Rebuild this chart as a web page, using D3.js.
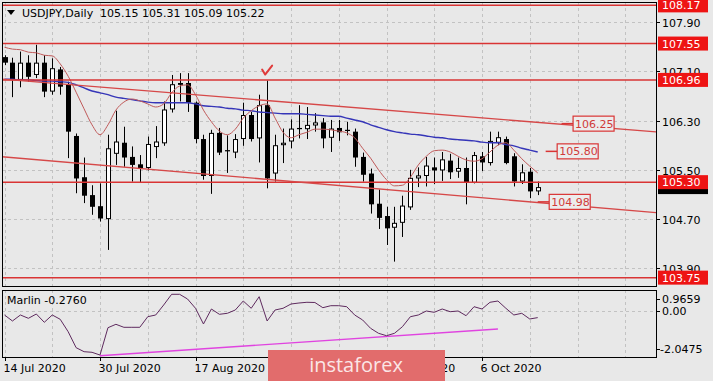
<!DOCTYPE html>
<html><head><meta charset="utf-8">
<script src="https://cdn.jsdelivr.net/npm/d3@7"></script>
<style>
html,body{margin:0;padding:0;background:#e8e8e8;}
svg{display:block;}
text{font-family:"DejaVu Sans",Verdana,sans-serif;font-size:11px;}
</style>
</head><body>
<svg id="c" width="713" height="381"></svg>
<script>
const dates = [
"2020-07-14","2020-07-15","2020-07-16","2020-07-17","2020-07-20","2020-07-21","2020-07-22","2020-07-23","2020-07-24","2020-07-27","2020-07-28","2020-07-29","2020-07-30","2020-07-31",
"2020-08-03","2020-08-04","2020-08-05","2020-08-06","2020-08-07","2020-08-10","2020-08-11","2020-08-12","2020-08-13","2020-08-14","2020-08-17","2020-08-18","2020-08-19","2020-08-20","2020-08-21","2020-08-24","2020-08-25","2020-08-26","2020-08-27","2020-08-28","2020-08-31",
"2020-09-01","2020-09-02","2020-09-03","2020-09-04","2020-09-07","2020-09-08","2020-09-09","2020-09-10","2020-09-11","2020-09-14","2020-09-15","2020-09-16","2020-09-17","2020-09-18","2020-09-21","2020-09-22","2020-09-23","2020-09-24","2020-09-25","2020-09-28","2020-09-29","2020-09-30",
"2020-10-01","2020-10-02","2020-10-05","2020-10-06","2020-10-07","2020-10-08","2020-10-09","2020-10-12","2020-10-13","2020-10-14","2020-10-15"];

const open = [107.33,107.24,106.96,107.24,107.04,107.24,106.77,107.13,106.88,106.05,
105.38,105.09,104.91,104.70,105.76,105.94,105.71,105.59,105.53,105.87,
105.93,106.48,106.91,106.91,106.59,106.00,105.40,106.10,105.82,105.78,
106.00,106.39,106.01,106.55,105.44,105.90,105.96,106.18,106.16,106.22,
106.27,106.02,106.18,106.15,106.12,105.71,105.44,104.95,104.75,104.56,
104.64,104.89,105.36,105.40,105.54,105.49,105.65,105.47,105.53,105.29,
105.72,105.61,105.94,106.00,105.72,105.31,105.47,105.15];
const high = [107.36,107.32,107.42,107.36,107.53,107.36,107.31,107.17,106.93,106.09,
105.70,105.25,105.28,106.07,106.46,106.20,105.88,105.74,106.04,106.21,
106.61,107.04,107.07,107.07,106.61,106.07,106.15,106.18,106.06,106.08,
106.59,106.44,106.72,106.95,106.07,106.17,106.32,106.55,106.52,106.42,
106.34,106.31,106.31,106.28,106.17,105.78,105.52,105.18,104.90,104.90,
105.08,105.50,105.54,105.71,105.70,105.79,105.76,105.70,105.70,105.79,
105.79,106.12,106.12,106.04,105.77,105.59,105.53,105.31];
const low = [107.20,106.68,106.84,106.93,106.99,106.68,106.72,106.72,105.69,105.12,
104.96,104.77,104.66,104.20,105.58,105.55,105.31,105.29,105.49,105.69,
105.89,106.43,106.61,106.44,105.93,105.34,105.11,105.74,105.45,105.69,
105.89,105.96,105.62,105.20,105.31,105.61,105.85,106.01,106.00,106.12,
105.85,105.79,105.97,106.06,105.55,105.31,104.79,104.54,104.28,104.01,
104.41,104.85,105.22,105.23,105.27,105.32,105.35,105.37,104.94,105.28,
105.48,105.57,105.90,105.59,105.23,105.27,105.04,105.09];
const close = [107.24,106.96,107.24,107.01,107.24,106.77,107.15,106.85,106.12,105.36,
105.08,104.90,104.71,105.85,105.96,105.70,105.58,105.53,105.92,105.96,
106.48,106.89,106.88,106.59,106.00,105.40,106.10,105.78,105.80,106.00,
106.39,106.00,106.55,105.36,105.90,105.94,106.17,106.16,106.23,106.27,
106.01,106.17,106.11,106.13,105.70,105.42,104.94,104.72,104.55,104.64,
104.92,105.37,105.41,105.57,105.49,105.67,105.46,105.53,105.29,105.74,
105.62,105.97,106.03,105.61,105.31,105.46,105.15,105.22];

const maFast = [107.49,107.46,107.45,107.41,107.40,107.36,107.35,107.22,107.02,106.76,
106.49,106.23,106.07,106.23,106.47,106.60,106.65,106.62,106.57,106.52,
106.57,106.75,106.86,106.88,106.72,106.47,106.28,106.13,106.07,106.16,
106.34,106.46,106.54,106.57,106.34,106.11,106.02,106.07,106.11,106.16,
106.16,106.15,106.13,106.10,106.02,105.85,105.69,105.50,105.34,105.24,
105.25,105.38,105.58,105.72,105.81,105.82,105.79,105.72,105.66,105.64,
105.68,105.79,105.90,105.94,105.82,105.68,105.56,105.45];
const maSlow = [106.97,106.97,106.96,106.96,106.95,106.94,106.94,106.93,106.92,106.88,
106.83,106.78,106.75,106.72,106.68,106.66,106.64,106.62,106.60,106.59,
106.59,106.59,106.59,106.59,106.57,106.54,106.53,106.52,106.50,106.49,
106.47,106.46,106.44,106.43,106.42,106.41,106.41,106.41,106.40,106.39,
106.38,106.37,106.37,106.34,106.31,106.28,106.23,106.19,106.15,106.12,
106.10,106.08,106.07,106.05,106.03,106.02,106.00,105.99,105.98,105.97,
105.95,105.94,105.94,105.91,105.89,105.85,105.82,105.79];

const marlin = [-0.158,-0.428,-0.158,-0.307,-0.114,-0.487,-0.158,-0.352,-0.910,-1.629,
-1.809,-1.836,-1.960,-0.730,-0.577,-0.712,-0.712,-0.712,-0.235,-0.158,
0.291,0.773,0.773,0.561,0.143,-0.563,0.111,-0.127,-0.082,0.066,
0.471,0.143,0.665,-0.428,0.066,0.143,0.336,0.381,0.413,0.404,
0.170,0.260,0.260,0.215,-0.158,-0.383,-0.757,-0.982,-1.089,-0.982,
-0.685,-0.235,-0.158,0.021,-0.037,0.111,-0.010,0.021,-0.190,0.215,
0.111,0.413,0.471,0.143,-0.158,-0.082,-0.338,-0.276];

const tickDates = ["2020-07-14","2020-07-30","2020-08-17","2020-09-02","2020-09-18","2020-10-06"];
const tickLabels = ["14 Jul 2020","30 Jul 2020","17 Aug 2020","2 Sep 2020","18 Sep 2020","6 Oct 2020"];
const priceTicks = [107.90,107.10,106.30,105.50,104.70,103.90];
const levels = [108.17,107.55,106.96,105.30,103.75];
const lastPrice = 105.22;
const upperTrendBars = [0,70], upperTrendPrices = [106.97,106.24];
const lowerTrendBars = [0,67], lowerTrendPrices = [105.71,104.97];
const tagValues = [106.25,105.80,104.98], tagBars = [70,68,67];
const marlinTrendBars = [12,62], marlinTrendValues = [-1.99,-0.79];
const marlinTicks = [0.9659,0.00,-2.0475];
const marlinLast = -0.2760;
const titleText = "USDJPY,Daily", titleValues = "105.15 105.31 105.09 105.22";
const markBar = 33;

// layout
const plotL = 2, plotR = 656, mainT = 2, mainB = 286, subT = 290, subB = 357;
const svg = d3.select("#c");
const x = d3.scaleLinear().domain([0,60]).range([4.5,482]);
const y = d3.scaleLinear().domain([103.90,107.90]).range([268.4,22]);
const ys = d3.scaleLinear().domain([-2.0475,0.9659]).range([subB,subT]);
const N = close.length;
const idx = d3.range(N);

const RED = "#d93434", GRID = "#c2c2c2";

svg.append("rect").attr("width",713).attr("height",381).attr("fill","#e8e8e8");

const defs = svg.append("defs");
defs.append("clipPath").attr("id","cm").append("rect").attr("x",plotL).attr("y",mainT).attr("width",plotR-plotL).attr("height",mainB-mainT);
defs.append("clipPath").attr("id","cs").append("rect").attr("x",plotL).attr("y",subT).attr("width",plotR-plotL).attr("height",subB-subT);

const main = svg.append("g").attr("clip-path","url(#cm)");
const sub = svg.append("g").attr("clip-path","url(#cs)");

// grid
const iMin = x.invert(plotL), iMax = x.invert(plotR);
const gridBars = d3.range(0, Math.ceil(iMax)+1, 6);
[main, sub].forEach((g,k)=>{
  g.selectAll(null).data(gridBars).join("line")
   .attr("x1",d=>Math.round(x(d))+0.5).attr("x2",d=>Math.round(x(d))+0.5)
   .attr("y1",k?subT:mainT).attr("y2",k?subB:mainB)
   .attr("stroke",GRID).attr("stroke-dasharray","3,3");
});
main.selectAll(null).data(priceTicks).join("line")
  .attr("x1",plotL).attr("x2",plotR)
  .attr("y1",d=>Math.round(y(d))+0.5).attr("y2",d=>Math.round(y(d))+0.5)
  .attr("stroke",GRID).attr("stroke-dasharray","3,3");
sub.append("line").attr("x1",plotL).attr("x2",plotR)
  .attr("y1",Math.round(ys(0))+0.5).attr("y2",Math.round(ys(0))+0.5)
  .attr("stroke",GRID).attr("stroke-dasharray","3,3");

// candles
main.selectAll(null).data(idx).join("line")
  .attr("x1",i=>Math.round(x(i))+0.5).attr("x2",i=>Math.round(x(i))+0.5)
  .attr("y1",i=>y(high[i])).attr("y2",i=>y(low[i]))
  .attr("stroke","#000").attr("stroke-width",1);
main.selectAll(null).data(idx).join("rect")
  .attr("x",i=>Math.round(x(i))-2)
  .attr("y",i=>y(Math.max(open[i],close[i])))
  .attr("width",5)
  .attr("height",i=>Math.max(1,Math.abs(y(open[i])-y(close[i]))))
  .attr("fill",i=>close[i]>=open[i]?"#ffffff":"#000000")
  .attr("stroke","#000").attr("stroke-width",i=>close[i]>=open[i]?1:0)
  .each(function(i){ if(close[i]>=open[i]){ d3.select(this).attr("x",Math.round(x(i))-1.5).attr("width",4).attr("y",y(close[i])+0.5).attr("height",Math.max(1,y(open[i])-y(close[i])-1)); }});

// moving averages
const ln = d3.line().x((d,i)=>x(i)).y(d=>y(d)).curve(d3.curveMonotoneX);
main.append("path").attr("d",ln(maSlow)).attr("fill","none").attr("stroke","#3535b8").attr("stroke-width",1.4);
main.append("path").attr("d",ln(maFast)).attr("fill","none").attr("stroke","#c05a5a").attr("stroke-width",1);

// horizontal levels
main.selectAll(null).data(levels).join("line")
  .attr("x1",plotL).attr("x2",plotR)
  .attr("y1",d=>y(d)).attr("y2",d=>y(d))
  .attr("stroke",RED).attr("stroke-width",1.5);

// trend lines
function trend(bars, prices){
  const f = i => prices[0] + (prices[1]-prices[0])*(i-bars[0])/(bars[1]-bars[0]);
  return [[x(iMin),y(f(iMin))],[x(iMax),y(f(iMax))]];
}
[[upperTrendBars,upperTrendPrices],[lowerTrendBars,lowerTrendPrices]].forEach(([b,p])=>{
  main.append("path").attr("d",d3.line()(trend(b,p))).attr("fill","none").attr("stroke","#d64848").attr("stroke-width",1.4);
});

// price tags on trend
tagValues.forEach((v,k)=>{
  const x0 = x(tagBars[k]), yy = y(v);
  svg.append("line").attr("x1",x0).attr("x2",x0+11.5).attr("y1",yy).attr("y2",yy).attr("stroke",RED).attr("stroke-width",1.5);
  svg.append("rect").attr("x",x0+11.5).attr("y",yy-7.5).attr("width",41).attr("height",15)
    .attr("fill","#ececec").attr("stroke",RED).attr("stroke-width",1.2);
  svg.append("text").attr("x",x0+13.5).attr("y",yy+4).attr("fill","#d03a3a").text(v.toFixed(2));
});

// check mark above bar
{
  const cx = x(markBar), cy = y(high[markBar]);
  svg.append("path").attr("d",d3.line()([[cx-5,cy-11],[cx-2,cy-6],[cx+5,cy-15]]))
    .attr("fill","none").attr("stroke","#e03a3a").attr("stroke-width",2).attr("stroke-linecap","round").attr("stroke-linejoin","round");
}

// sub panel
sub.append("path").attr("d",d3.line()(marlinTrendBars.map((b,k)=>[x(b),ys(marlinTrendValues[k])])))
  .attr("fill","none").attr("stroke","#e044e0").attr("stroke-width",1.4);
sub.append("path").attr("d",d3.line().x((d,i)=>x(i)).y(d=>ys(d))(marlin))
  .attr("fill","none").attr("stroke","#5e2a5e").attr("stroke-width",1);
svg.append("text").attr("x",7).attr("y",304).attr("fill","#000").text("Marlin " + marlinLast.toFixed(4));

// frames
svg.append("rect").attr("x",plotL+0.5).attr("y",mainT+0.5).attr("width",plotR-plotL).attr("height",mainB-mainT).attr("fill","none").attr("stroke","#000");
svg.append("rect").attr("x",plotL+0.5).attr("y",subT+0.5).attr("width",plotR-plotL).attr("height",subB-subT).attr("fill","none").attr("stroke","#000");

// right axis labels
priceTicks.forEach(v=>{
  const yy = Math.round(y(v))+0.5;
  svg.append("line").attr("x1",plotR).attr("x2",plotR+4).attr("y1",yy).attr("y2",yy).attr("stroke","#000");
  svg.append("text").attr("x",662).attr("y",yy+4).attr("fill","#000").text(v.toFixed(2));
});
// last price (black) box under levels
svg.append("rect").attr("x",658).attr("y",y(lastPrice)-7).attr("width",50).attr("height",14).attr("fill","#000");
levels.forEach(v=>{
  const yy = y(v);
  svg.append("rect").attr("x",658).attr("y",yy-7).attr("width",50).attr("height",14).attr("fill","#ee1414");
  svg.append("text").attr("x",662).attr("y",yy+4).attr("fill","#ffffff").text(v.toFixed(2));
});
// sub axis labels
marlinTicks.forEach((v,k)=>{
  const yy = ys(v);
  const ty = k===0 ? yy+13 : (k===2 ? yy-4 : yy+4);
  svg.append("line").attr("x1",plotR).attr("x2",plotR+4).attr("y1",Math.round(ty-4)+0.5).attr("y2",Math.round(ty-4)+0.5).attr("stroke","#000");
  svg.append("text").attr("x",k===2?660:662).attr("y",ty).attr("fill","#000").text(k===1?v.toFixed(2):v.toFixed(4));
});

// x axis labels
tickDates.forEach((d,k)=>{
  const i = dates.indexOf(d);
  const xx = Math.round(x(i))+0.5;
  svg.append("line").attr("x1",xx).attr("x2",xx).attr("y1",subB).attr("y2",subB+4).attr("stroke","#000");
  svg.append("text").attr("x",xx-2).attr("y",372).attr("fill","#000").text(tickLabels[k]);
});

// title
svg.append("path").attr("d","M7,10L15,10L11,15Z").attr("fill","#000");
svg.append("text").attr("x",22).attr("y",17).attr("fill","#000").text(titleText);
svg.append("text").attr("x",100).attr("y",17).attr("fill","#000").text(titleValues);

// watermark logo
svg.append("rect").attr("x",268).attr("y",350).attr("width",177).attr("height",32).attr("fill","#e26c6c");
svg.append("text").attr("x",356).attr("y",372).attr("text-anchor","middle")
  .style("font-family","'Open Sans',Lato,sans-serif").style("font-size","20px").attr("fill","#fbe6e6").text("instaforex");
</script>
</body></html>
